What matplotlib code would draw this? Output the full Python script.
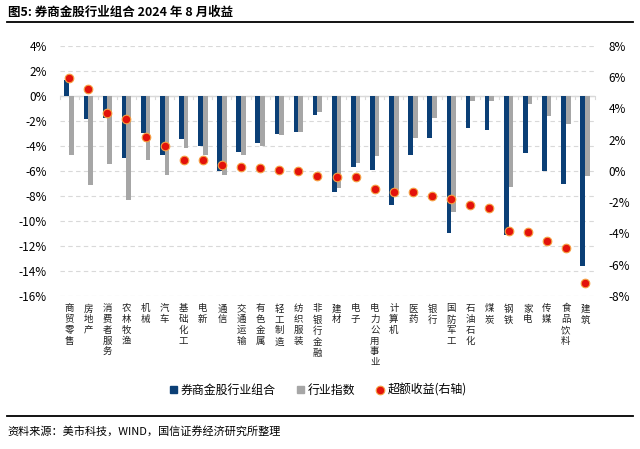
import numpy as np
import matplotlib
matplotlib.use("Agg")
import matplotlib.pyplot as plt
from matplotlib.ticker import FuncFormatter
from matplotlib.lines import Line2D
from matplotlib.patches import Patch

plt.rcParams['font.family'] = ['Noto Sans CJK SC', 'DejaVu Sans']

# 行业
industries = ["商贸零售", "房地产", "消费者服务", "农林牧渔", "机械", "汽车", "基础化工",
              "电新", "通信", "交通运输", "有色金属", "轻工制造", "纺织服装", "非银行金融",
              "建材", "电子", "电力公用事业", "计算机", "医药", "银行", "国防军工",
              "石油石化", "煤炭", "钢铁", "家电", "传媒", "食品饮料", "建筑"]

# 券商金股行业组合 (%)
portfolio = [1.3, -1.87, -1.79, -4.99, -2.99, -4.75, -3.44, -3.97, -6.0, -4.45,
             -3.79, -3.07, -2.88, -1.55, -7.7, -5.7, -5.92, -8.72, -4.7, -3.33,
             -10.98, -2.59, -2.72, -11.1, -4.53, -6.0, -7.07, -13.57]

# 行业指数 (%)
index_ret = [-4.7, -7.1, -5.47, -8.3, -5.1, -6.35, -4.16, -4.72, -6.35, -4.7,
             -3.97, -3.15, -2.88, -1.25, -7.39, -5.33, -4.8, -7.52, -3.39, -1.74,
             -9.26, -0.4, -0.4, -7.25, -0.64, -1.57, -2.21, -6.4]

# 超额收益 (%, 右轴)
excess = [5.97, 5.27, 3.69, 3.33, 2.16, 1.6, 0.72, 0.70, 0.36, 0.26,
          0.19, 0.08, -0.02, -0.31, -0.38, -0.4, -1.13, -1.32, -1.36, -1.62,
          -1.77, -2.2, -2.37, -3.84, -3.9, -4.48, -4.9, -7.19]

blue = "#0b3f76"
gray = "#a6a6a6"

fig = plt.figure(figsize=(6.4, 4.49), dpi=100)
ax = fig.add_axes([0.093, 0.3408, 0.836, 0.5568])
ax2 = ax.twinx()

x = np.arange(len(industries))
w = 0.245
ax.bar(x - w / 2, portfolio, width=w, color=blue, zorder=3)
ax.bar(x + w / 2, index_ret, width=w, color=gray, zorder=3)

ax2.plot(x, excess, linestyle="none", marker="o", markersize=6.2,
         markerfacecolor="#e3120b", markeredgecolor="#f5a142", markeredgewidth=0.8, zorder=5)

ax.set_xlim(-0.5, len(industries) - 0.5)
ax.set_ylim(-16, 4)
ax.set_yticks(np.arange(-16, 5, 2))
ax2.set_ylim(-8, 8)
ax2.set_yticks(np.arange(-8, 9, 2))

pct = FuncFormatter(lambda v, p: "%d%%" % v)
ax.yaxis.set_major_formatter(pct)
ax2.yaxis.set_major_formatter(pct)

ax.grid(axis="y", linestyle=(0, (4, 3)), color="#d9d9d9", linewidth=0.8, zorder=0)
ax.axhline(0, color="#d9d9d9", linewidth=1.0, zorder=2)

for a in (ax, ax2):
    for s in a.spines.values():
        s.set_visible(False)
    a.tick_params(axis="y", length=0, labelsize=8.5, colors="black")
ax.tick_params(axis="y", pad=9)
ax2.tick_params(axis="y", pad=10)

# x轴小刻度 (零线处)
ax.set_xticks([])
for b in np.arange(-0.5, len(industries), 1.0):
    ax.plot([b, b], [0, -0.25], color="#d9d9d9", linewidth=0.8, zorder=2, clip_on=False)

# 竖排行业名称
for i, name in enumerate(industries):
    ax.annotate("\n".join(name), xy=(i, 0), xycoords=("data", "axes fraction"),
                xytext=(0, -6), textcoords="offset points", ha="center", va="top",
                fontsize=6.8, linespacing=1.25, color="#222222")

handles = [Patch(color=blue), Patch(color=gray),
           Line2D([], [], linestyle="none", marker="o", markersize=6.2,
                  markerfacecolor="#e3120b", markeredgecolor="#f5a142", markeredgewidth=0.8)]
fig.legend(handles, ["券商金股行业组合", "行业指数", "超额收益(右轴)"],
           loc="center", bbox_to_anchor=(0.497, 0.131), ncol=3, frameon=False,
           fontsize=8.6, handlelength=0.6, handleheight=0.6, handletextpad=0.3,
           columnspacing=1.8)

# 标题与来源
fig.text(0.012, 0.972, "图5: 券商金股行业组合 2024 年 8 月收益", fontsize=9,
         fontweight="bold", ha="left", va="center")
fig.add_artist(Line2D([0.011, 0.989], [0.951, 0.951], color="black", linewidth=1.3))
fig.add_artist(Line2D([0.011, 0.989], [0.074, 0.074], color="black", linewidth=1.3))
fig.text(0.012, 0.040, "资料来源：美市科技，WIND，国信证券经济研究所整理", fontsize=8,
         ha="left", va="center")

fig.savefig("out.png", dpi=100)
